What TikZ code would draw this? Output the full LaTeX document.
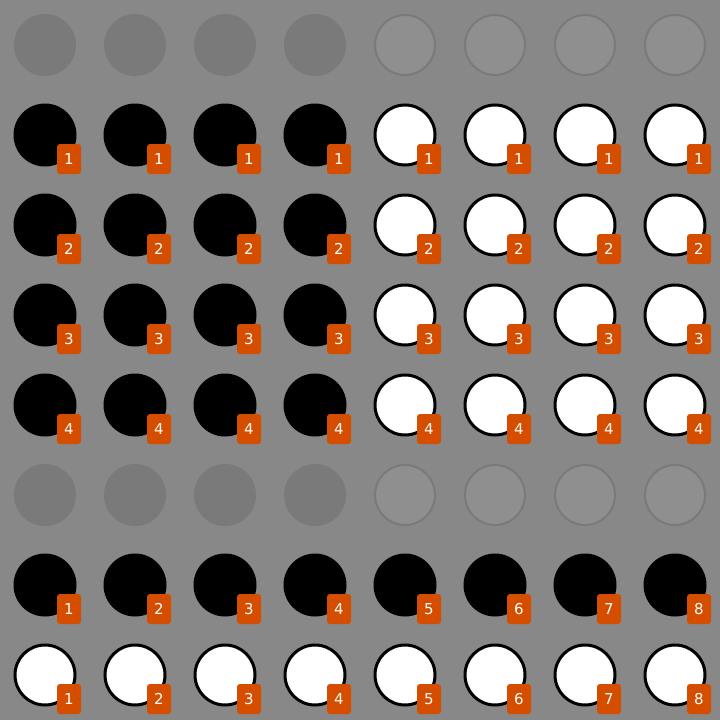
\documentclass[tikz,border=0pt]{standalone}
\usepackage{fontspec}
\setsansfont{DejaVu Sans}
\definecolor{sfondo}{HTML}{888888}
\definecolor{buioscuro}{HTML}{7A7A7A}
\definecolor{buiochiaro}{HTML}{8F8F8F}
\definecolor{arancio}{HTML}{D54E00}
\tikzset{
  pedinanera/.style={circle,fill=black,inner sep=0pt,minimum size=63pt},
  pedinabianca/.style={circle,fill=white,draw=black,line width=3pt,inner sep=0pt,minimum size=60pt},
  bucoscuro/.style={circle,fill=buioscuro,inner sep=0pt,minimum size=62pt},
  bucochiaro/.style={circle,fill=buiochiaro,draw=buioscuro,line width=2pt,inner sep=0pt,minimum size=60pt},
  etichetta/.style={fill=arancio,rounded corners=3pt,text=white,inner sep=0pt,
    minimum width=24pt,minimum height=30pt,font=\sffamily\fontsize{15}{15}\selectfont}
}
\begin{document}
\begin{tikzpicture}[x=1pt,y=-1pt]
    % sfondo
    \fill[sfondo] (0,0) rectangle (720,720);
    \useasboundingbox (0,0) rectangle (720,720);

    % righe vuote (0 e 5)
    \foreach \r in {0,5} {
      \foreach \c in {0,...,3}
        \node[bucoscuro] (h-\r-\c) at (45+90*\c,45+90*\r) {};
      \foreach \c in {4,...,7}
        \node[bucochiaro] (h-\r-\c) at (45+90*\c,45+90*\r) {};
    }

    % righe 1-4: nere a sinistra, bianche a destra
    \foreach \r in {1,...,4} {
      \foreach \c in {0,...,3} {
        \node[pedinanera] (p-\r-\c) at (45+90*\c,45+90*\r) {};
        \node[etichetta] (e-\r-\c) at ([shift={(24,24)}]p-\r-\c.center) {\r};
      }
      \foreach \c in {4,...,7} {
        \node[pedinabianca] (p-\r-\c) at (45+90*\c,45+90*\r) {};
        \node[etichetta] (e-\r-\c) at ([shift={(24,24)}]p-\r-\c.center) {\r};
      }
    }

    % riga 6 tutte nere, riga 7 tutte bianche
    \foreach \c [evaluate=\c as \n using int(\c+1)] in {0,...,7} {
      \node[pedinanera] (p-6-\c) at (45+90*\c,585) {};
      \node[etichetta] (e-6-\c) at ([shift={(24,24)}]p-6-\c.center) {\n};
      \node[pedinabianca] (p-7-\c) at (45+90*\c,675) {};
      \node[etichetta] (e-7-\c) at ([shift={(24,24)}]p-7-\c.center) {\n};
    }
\end{tikzpicture}
\end{document}
